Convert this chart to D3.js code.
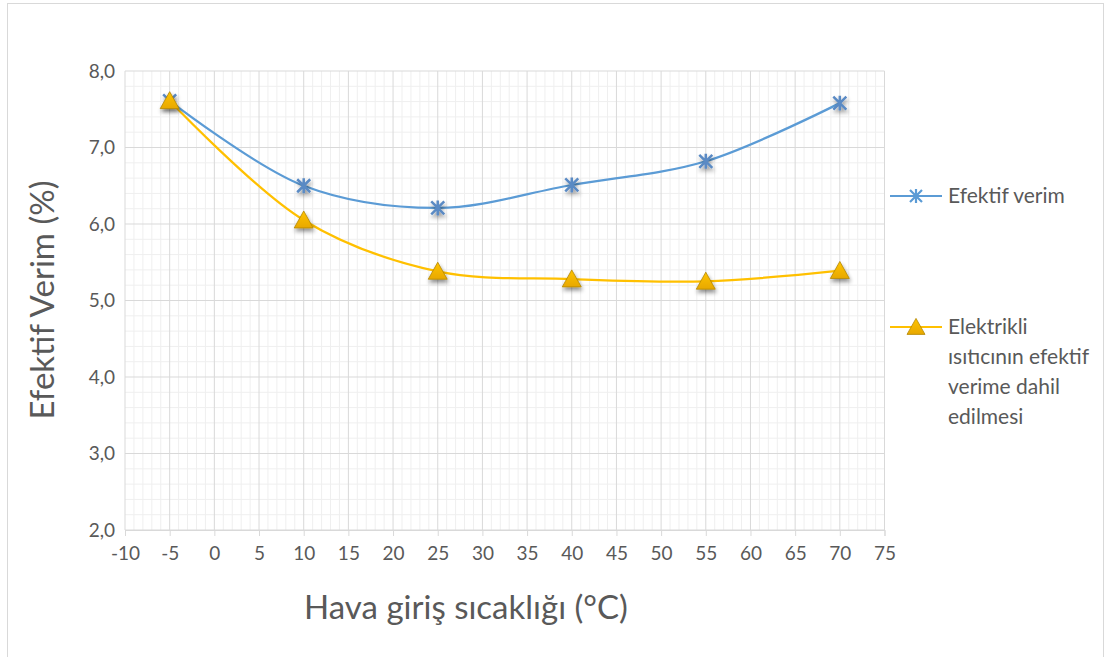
<!DOCTYPE html>
<html>
<head>
<meta charset="utf-8">
<script src="https://cdn.jsdelivr.net/npm/d3@7"></script>
<style>
  html, body { margin: 0; padding: 0; background: #fff; }
  svg text { font-family: Lato, "Open Sans", "Liberation Sans", sans-serif; fill: #595959; }
</style>
</head>
<body>
<svg id="chart" width="1105" height="657"></svg>
<script>
// Air inlet temperature (°C)
const temps = [-5, 10, 25, 40, 55, 70];
// Effective efficiency (%)
const efektifVerim = [7.61, 6.50, 6.21, 6.51, 6.82, 7.58];
// Effective efficiency with the electric heater included (%)
const elektrikliIsitici = [7.61, 6.05, 5.38, 5.28, 5.25, 5.39];

const xTicks = d3.range(-10, 76, 5);
const yTicks = d3.range(2, 8.01, 1);
const legendLines = [["Efektif verim"], ["Elektrikli", "ısıtıcının efektif", "verime dahil", "edilmesi"]];
const xTitle = "Hava giriş sıcaklığı (°C)";
const yTitle = "Efektif Verim (%)";

const svg = d3.select("#chart");
const plot = { left: 125, right: 884.5, top: 71, bottom: 530 };

const x = d3.scaleLinear().domain([-10, 75]).range([plot.left, plot.right]);
const y = d3.scaleLinear().domain([2, 8]).range([plot.bottom, plot.top]);

// outer chart frame
svg.append("rect").attr("x", 7.5).attr("y", 3.5).attr("width", 1096).attr("height", 660)
  .attr("fill", "#fff").attr("stroke", "#d9d9d9").attr("stroke-width", 1);

const defs = svg.append("defs");
const sh = defs.append("filter").attr("id", "shadow").attr("x", "-50%").attr("y", "-50%").attr("width", "200%").attr("height", "200%");
sh.append("feGaussianBlur").attr("in", "SourceAlpha").attr("stdDeviation", 2).attr("result", "b");
sh.append("feOffset").attr("in", "b").attr("dx", 1).attr("dy", 3).attr("result", "o");
sh.append("feComponentTransfer").attr("in", "o").attr("result", "o2")
  .append("feFuncA").attr("type", "linear").attr("slope", 0.45);
const m = sh.append("feMerge");
m.append("feMergeNode").attr("in", "o2");
m.append("feMergeNode").attr("in", "SourceGraphic");

const grad = defs.append("linearGradient").attr("id", "triFill").attr("x1", 0).attr("y1", 0).attr("x2", 0).attr("y2", 1);
grad.append("stop").attr("offset", "0%").attr("stop-color", "#ffc400");
grad.append("stop").attr("offset", "100%").attr("stop-color", "#e8a800");

// minor grid
const g = svg.append("g");
g.selectAll(".vmin").data(d3.range(-10, 75.5, 1).filter(v => v % 5 !== 0)).join("line")
  .attr("x1", d => x(d)).attr("x2", d => x(d)).attr("y1", plot.top).attr("y2", plot.bottom)
  .attr("stroke", "#efefef").attr("stroke-width", 1);
g.selectAll(".hmin").data(d3.range(2, 8.001, 0.2).filter(v => Math.abs(v - Math.round(v)) > 0.01)).join("line")
  .attr("x1", plot.left).attr("x2", plot.right).attr("y1", d => y(d)).attr("y2", d => y(d))
  .attr("stroke", "#efefef").attr("stroke-width", 1);
// major grid
g.selectAll(".vmaj").data(xTicks).join("line")
  .attr("x1", d => x(d)).attr("x2", d => x(d)).attr("y1", plot.top).attr("y2", plot.bottom)
  .attr("stroke", "#d9d9d9").attr("stroke-width", 1);
g.selectAll(".hmaj").data(yTicks).join("line")
  .attr("x1", plot.left).attr("x2", plot.right).attr("y1", d => y(d)).attr("y2", d => y(d))
  .attr("stroke", "#d9d9d9").attr("stroke-width", 1);

// x axis
const xAxis = svg.append("g").attr("transform", `translate(0,${plot.bottom})`)
  .call(d3.axisBottom(x).tickValues(xTicks).tickSize(6).tickPadding(11).tickFormat(d => String(d)));
xAxis.select(".domain").attr("stroke", "#d9d9d9");
xAxis.selectAll(".tick line").attr("stroke", "#d9d9d9");
xAxis.selectAll("text").attr("font-size", 19).attr("fill", "#595959").style("font-family", "Lato, sans-serif");

// y axis
const fmt = v => d3.format(".1f")(v).replace(".", ",");
const yAxis = svg.append("g").attr("transform", `translate(${plot.left},0)`)
  .call(d3.axisLeft(y).tickValues(yTicks).tickSize(0).tickPadding(10).tickFormat(fmt));
yAxis.select(".domain").remove();
yAxis.selectAll("text").attr("font-size", 19).attr("fill", "#595959").style("font-family", "Lato, sans-serif");

// titles
svg.append("text").attr("x", 466).attr("y", 619).attr("text-anchor", "middle")
  .attr("font-size", 33).text(xTitle);
svg.append("text").attr("transform", "translate(54,300) rotate(-90)").attr("text-anchor", "middle")
  .attr("font-size", 33).text(yTitle);

// series
const blue = "#5b9bd5", blueMark = "#5a8ac4", gold = "#ffc000", goldEdge = "#b38600";
const line = d3.line().x(d => x(d[0])).y(d => y(d[1])).curve(d3.curveCatmullRom.alpha(0.5));

const s1 = temps.map((t, i) => [t, efektifVerim[i]]);
const s2 = temps.map((t, i) => [t, elektrikliIsitici[i]]);

svg.append("path").datum(s2).attr("d", line).attr("fill", "none").attr("stroke", gold).attr("stroke-width", 2.25);
svg.append("path").datum(s1).attr("d", line).attr("fill", "none").attr("stroke", blue).attr("stroke-width", 2.25);

const starPath = r => `M${-r},${-r}L${r},${r}M${-r},${r}L${r},${-r}M0,${-r * 1.15}L0,${r * 1.15}`;
const triPath = (w, h) => `M0,${-h * 0.6}L${w / 2},${h * 0.4}L${-w / 2},${h * 0.4}Z`;

svg.append("g").selectAll("path").data(s1).join("path")
  .attr("transform", d => `translate(${x(d[0])},${y(d[1])})`)
  .attr("d", starPath(6.5)).attr("fill", "none").attr("stroke", blueMark).attr("stroke-width", 2.5)
  .attr("filter", "url(#shadow)");

svg.append("g").selectAll("path").data(s2).join("path")
  .attr("transform", d => `translate(${x(d[0])},${y(d[1]) + 1})`)
  .attr("d", triPath(19, 17)).attr("fill", "url(#triFill)").attr("stroke", goldEdge).attr("stroke-width", 0.8)
  .attr("filter", "url(#shadow)");

// legend
const leg = svg.append("g");
const legY = [196, 327];
leg.append("line").attr("x1", 890).attr("x2", 942).attr("y1", legY[0]).attr("y2", legY[0]).attr("stroke", blue).attr("stroke-width", 2);
leg.append("path").attr("transform", `translate(916,${legY[0]})`).attr("d", starPath(6)).attr("fill", "none")
  .attr("stroke", blue).attr("stroke-width", 2.2);
leg.append("line").attr("x1", 890).attr("x2", 942).attr("y1", legY[1]).attr("y2", legY[1]).attr("stroke", gold).attr("stroke-width", 2);
leg.append("path").attr("transform", `translate(916,${legY[1] + 1})`).attr("d", triPath(18, 16))
  .attr("fill", "url(#triFill)").attr("stroke", goldEdge).attr("stroke-width", 0.8);

legendLines.forEach((lines, i) => {
  const t = leg.append("text").attr("x", 948).attr("y", legY[i] + 7).attr("font-size", 21);
  lines.forEach((l, j) => t.append("tspan").attr("x", 948).attr("dy", j === 0 ? 0 : 30).text(l));
});
</script>
</body>
</html>
